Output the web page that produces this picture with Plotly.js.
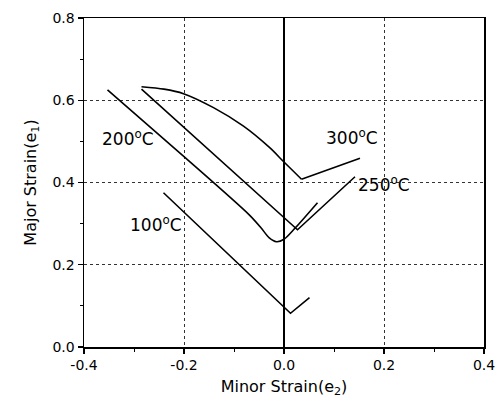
<!DOCTYPE html>
<html>
<head>
<meta charset="utf-8">
<script src="https://cdn.plot.ly/plotly-3.0.1.min.js"></script>
<style>html,body{margin:0;padding:0;background:#fff;}#chart{width:496px;height:410px;}</style>
</head>
<body>
<div id="chart"></div>
<script>
// Data (minor strain e2, major strain e1)
const t100_x = [-0.241, 0.013, 0.051];
const t100_y = [0.375, 0.082, 0.120];

const t200_x = [-0.353, -0.200, -0.070, -0.046, -0.030, -0.015, 0.000, 0.022, 0.067];
const t200_y = [0.625, 0.463, 0.322, 0.290, 0.266, 0.256, 0.262, 0.289, 0.351];

const t250_x = [-0.285, 0.027, 0.142];
const t250_y = [0.627, 0.285, 0.414];

const t300_x = [-0.285, -0.240, -0.201, -0.141, -0.081, -0.028, -0.001, 0.035, 0.152];
const t300_y = [0.633, 0.627, 0.616, 0.582, 0.537, 0.484, 0.451, 0.408, 0.459];

const labelText = ["100<sup>o</sup>C", "200<sup>o</sup>C", "250<sup>o</sup>C", "300<sup>o</sup>C"];
const labelX = [-0.256, -0.313, 0.2, 0.136];
const labelY = [0.298, 0.508, 0.397, 0.510];

const xTicks = [-0.4, -0.2, 0.0, 0.2, 0.4];
const xTickText = ["-0.4", "-0.2", "0.0", "0.2", "0.4"];
const yTicks = [0.0, 0.2, 0.4, 0.6, 0.8];
const yTickText = ["0.0", "0.2", "0.4", "0.6", "0.8"];

const FONT = "DejaVu Sans, Arial, sans-serif";

function series(x, y, shape) {
  return {x: x, y: y, type: "scatter", mode: "lines",
          line: {color: "#000", width: 1.6, shape: shape || "linear", smoothing: 0.8},
          showlegend: false, hoverinfo: "skip"};
}

const n300 = t300_x.length;
const data = [
  series(t100_x, t100_y),
  series(t200_x, t200_y, "spline"),
  series(t250_x, t250_y),
  series(t300_x.slice(0, n300 - 1), t300_y.slice(0, n300 - 1), "spline"),
  series(t300_x.slice(n300 - 2), t300_y.slice(n300 - 2))
];

const annotations = labelText.map((t, i) => ({
  x: labelX[i], y: labelY[i], xref: "x", yref: "y", text: t, showarrow: false,
  font: {family: FONT, size: 17, color: "#000"}, xanchor: "center", yanchor: "middle"
}));

const axisCommon = {
  showline: true, linecolor: "#000", linewidth: 1.5, mirror: true,
  ticks: "outside", ticklen: 5, tickwidth: 1.2, tickcolor: "#000",
  showgrid: true, gridcolor: "#333", griddash: "dot", gridwidth: 1,
  zeroline: false,
  tickfont: {family: FONT, size: 14, color: "#000"},
  minor: {ticks: "outside", ticklen: 3, tickwidth: 1, tickcolor: "#000", dtick: 0.1, showgrid: false}
};

const layout = {
  width: 496, height: 410,
  margin: {l: 84, r: 12, t: 18, b: 63},
  paper_bgcolor: "#fff", plot_bgcolor: "#fff",
  xaxis: Object.assign({}, axisCommon, {
    range: [-0.4, 0.4], tickvals: xTicks, ticktext: xTickText,
    zeroline: true, zerolinecolor: "#000", zerolinewidth: 1.5,
    title: {text: "Minor Strain(e<sub>2</sub>)", font: {family: FONT, size: 16, color: "#000"}, standoff: 8}
  }),
  yaxis: Object.assign({}, axisCommon, {
    range: [0, 0.8], tickvals: yTicks, ticktext: yTickText,
    title: {text: "Major Strain(e<sub>1</sub>)", font: {family: FONT, size: 16, color: "#000"}, standoff: 12}
  }),
  annotations: annotations,
  showlegend: false
};

Plotly.newPlot("chart", data, layout, {displayModeBar: false, staticPlot: true});
</script>
</body>
</html>
